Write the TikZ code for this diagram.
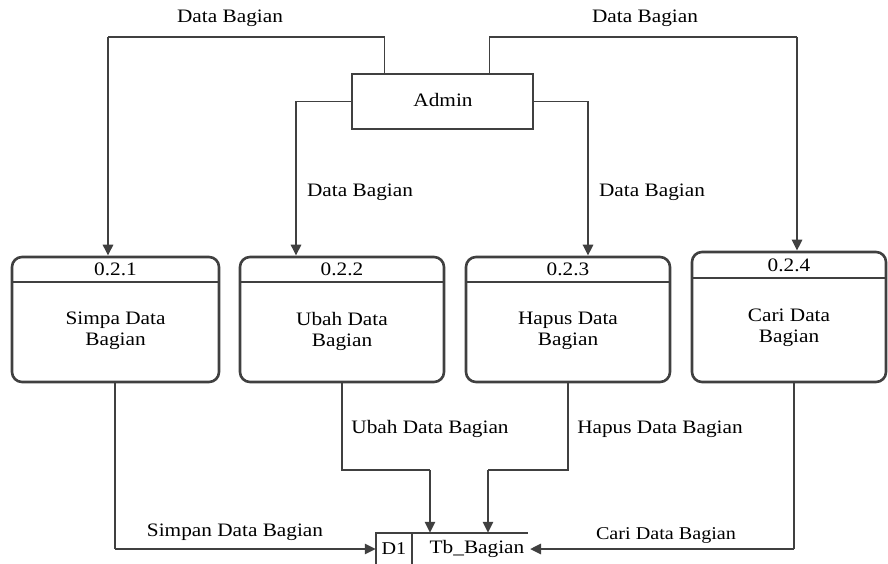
\documentclass[tikz,border=0pt]{standalone}
\usepackage{fontspec}
\setmainfont[FakeStretch=1.12]{Liberation Serif}
\usetikzlibrary{arrows.meta}
\definecolor{lc}{RGB}{64,64,64}
\tikzset{
  thinln/.style={draw=lc, line width=1.2pt},
  thkln/.style={draw=lc, line width=2.6pt, -{Triangle[length=11pt,width=10pt]}},
  shapeln/.style={draw=lc, line width=2.6pt},
  proc/.style={draw=lc, line width=2.6pt, rounded corners=10pt, inner sep=0pt},
  txt/.style={font=\fontsize{19}{21}\selectfont, inner sep=0pt, text=black},
  smalltxt/.style={font=\fontsize{18}{20}\selectfont, inner sep=0pt, text=black},
  body/.style={txt, align=center},
}
\begin{document}
\begin{tikzpicture}[x=1pt,y=-1pt]
\useasboundingbox (0,0) rectangle (888,564);
% Admin
\node[shapeln, minimum width=181pt, minimum height=55pt, inner sep=0pt] (admin) at (442.5,101.5) {};
\node[txt] (admint) at (443,100) {Admin};
% processes
\node[proc, minimum width=207pt, minimum height=125pt] (p1) at (115.5,319.5) {};
\node[proc, minimum width=204pt, minimum height=125pt] (p2) at (342,319.5) {};
\node[proc, minimum width=204pt, minimum height=125pt] (p3) at (568,319.5) {};
\node[proc, minimum width=194pt, minimum height=130pt] (p4) at (789,317) {};
\draw[shapeln] (12,282) -- (219,282);
\draw[shapeln] (240,282) -- (444,282);
\draw[shapeln] (466,282) -- (670,282);
\draw[shapeln] (692,278) -- (886,278);
\node[txt] (t1) at (115.5,269) {0.2.1};
\node[txt] (t2) at (342,269) {0.2.2};
\node[txt] (t3) at (568,269) {0.2.3};
\node[txt] (t4) at (789,265) {0.2.4};
\node[body] (s1) at (115.5,331) {Simpa Data\\Bagian};
\node[body] (s2) at (342,331) {Ubah Data\\Bagian};
\node[body] (s3) at (568,331) {Hapus Data\\Bagian};
\node[body] (s4) at (789,328) {Cari Data\\Bagian};
% data store
\node[smalltxt, minimum width=36pt, minimum height=32pt] (d1) at (394,549) {D1};
\node[txt] (tb) at (477,549) {Tb\_Bagian};
\coordinate (tbe) at (530,549);
\draw[shapeln] (376,566) -- (376,533) -- (528,533);
\draw[shapeln] (412,533) -- (412,566);
% bend points
\coordinate (k1) at (108,37);
\coordinate (k2) at (797,37);
\coordinate (k3) at (296,101.5);
\coordinate (k4) at (588,101.5);
\coordinate (b1) at (115,549);
\coordinate (b2) at (342,470);
\coordinate (c2) at (430,470);
\coordinate (b3) at (568,470);
\coordinate (c3) at (488,470);
\coordinate (b4) at (794,549);
% connectors from admin
\draw[thinln] ([xshift=34pt]admin.north west) |- (k1);
\draw[thkln] (k1) -- (k1 |- p1.north);
\draw[thinln] ([xshift=-45pt]admin.north east) |- (k2);
\draw[thkln] (k2) -- (k2 |- p4.north);
\draw[thinln] (admin.west) -- (k3);
\draw[thkln] (k3) -- (k3 |- p2.north);
\draw[thinln] (admin.east) -- (k4);
\draw[thkln] (k4) -- (k4 |- p3.north);
% connectors to store
\draw[thinln] (b1 |- p1.south) -- (b1);
\draw[thkln] (b1) -- (d1.west);
\draw[thinln] (b2 |- p2.south) -- (b2) -- (c2);
\draw[thkln] (c2) -- (c2 |- d1.north);
\draw[thinln] (b3 |- p3.south) -- (b3) -- (c3);
\draw[thkln] (c3) -- (c3 |- d1.north);
\draw[thinln] (b4 |- p4.south) -- (b4);
\draw[thkln] (b4) -- (tbe);
% labels
\node[txt] (l1) at (230,18) {Data Bagian};
\node[txt] (l2) at (645,18) {Data Bagian};
\node[txt] (l3) at (360,192) {Data Bagian};
\node[txt] (l4) at (652,192) {Data Bagian};
\node[txt] (l5) at (430,429) {Ubah Data Bagian};
\node[txt] (l6) at (660,429) {Hapus Data Bagian};
\node[txt] (l7) at (235,532) {Simpan Data Bagian};
\node[smalltxt] (l8) at (666,535) {Cari Data Bagian};
\end{tikzpicture}
\end{document}
